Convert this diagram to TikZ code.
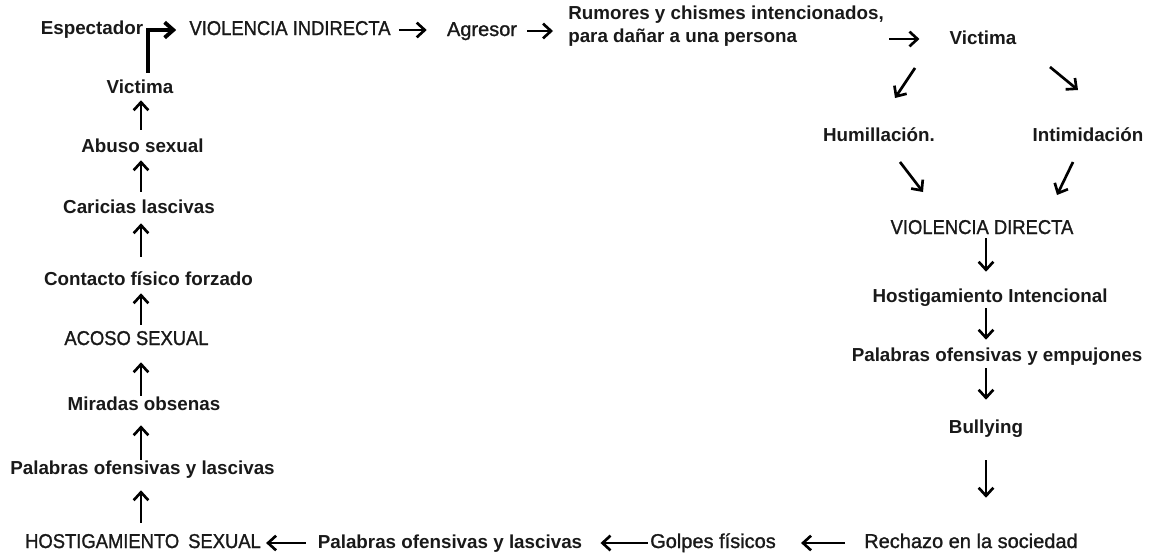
\documentclass[tikz,border=0pt]{standalone}
\usepackage{fontspec}
\setmainfont{Liberation Sans}
\newfontfamily\regf[FakeBold=1.2]{Liberation Sans}
\newfontfamily\capsf[FakeStretch=0.92,FakeBold=1.2]{Liberation Sans}
\usetikzlibrary{arrows.meta,calc}
\newdimen\px \px=0.75pt
\begin{document}
\begin{tikzpicture}[x=0.75pt,y=-0.75pt,
  lbl/.style={inner sep=0pt, anchor=base, text height=14\px, text depth=4\px, text=black!90},
  bd/.style={lbl, font=\fontsize{14.1}{17}\selectfont\bfseries},
  rg/.style={lbl, font=\regf\fontsize{15}{18}\selectfont},
  cp/.style={lbl, font=\capsf\fontsize{15}{18}\selectfont},
  arr/.style={line width=2pt, -{Straight Barb[length=6pt,width=11pt]}},
  bendarr/.style={line width=2.9pt, -{Straight Barb[length=6.5pt,width=11.5pt]}}
]
\fill[white] (0,0) rectangle (1149,554);
\useasboundingbox (0,0) rectangle (1149,554);
\coordinate (axL) at (141,0);
\coordinate (axR) at (986,0);

% top row
\node[bd] (esp) at (92,34) {Espectador};
\node[cp] (vi) at (290,35) {VIOLENCIA INDIRECTA};
\node[rg] (ag) at (482,36) {Agresor};
\node[inner sep=0pt, anchor=north west, align=left, text=black!90,
      font=\fontsize{14.1}{17.25}\selectfont\bfseries] (rum) at (568,6)
      {Rumores y chismes intencionados,\\para dañar a una persona};
\node[bd] (vr) at (983,44) {Victima};

% right side
\node[bd] (hum) at (879,141) {Humillación.};
\node[bd] (int) at (1088,141) {Intimidación};
\node[cp] (vd) at (982,234) {VIOLENCIA DIRECTA};
\node[bd] (hi) at (990,302) {Hostigamiento Intencional};
\node[bd] (poe) at (997,361) {Palabras ofensivas y empujones};
\node[bd] (bul) at (986,433) {Bullying};

% bottom row
\node[rg] (rech) at (971,548) {Rechazo en la sociedad};
\node[rg] (gol) at (713,548) {Golpes físicos};
\node[bd] (pob) at (450,548) {Palabras ofensivas y lascivas};
\node[cp] (hs) at (143,548) {HOSTIGAMIENTO\hspace{0.45em}SEXUAL};

% left column
\node[bd] (pal) at (142.5,474) {Palabras ofensivas y lascivas};
\node[bd] (mir) at (144,410) {Miradas obsenas};
\node[cp] (aco) at (136.5,345) {ACOSO SEXUAL};
\node[bd] (con) at (148.5,285) {Contacto físico forzado};
\node[bd] (car) at (139,213) {Caricias lascivas};
\node[bd] (ab) at (142.5,152) {Abuso sexual};
\node[bd] (vl) at (140,93) {Victima};

% top arrows
\draw[bendarr, shorten <=6\px, shorten >=13\px] ([xshift=8\px]vl.north) |- (vi.west);
\draw[arr, shorten <=8\px, shorten >=20\px] (vi.east) -- (vi.east -| ag.west);
\draw[arr, shorten <=10\px, shorten >=15\px] (ag.east) -- (ag.east -| rum.west);
\draw[arr, shorten <=5\px, shorten >=30\px] (rum.east |- vr.west) -- (vr.west);

% diagonal arrows
\draw[arr] ([shift={(-68,29)}]vr.center) -- ([shift={(16,-38)}]hum.center);
\draw[arr] ([shift={(67,28)}]vr.center) -- ([shift={(-10,-46)}]int.center);
\draw[arr] ([shift={(21,26)}]hum.center) -- ([shift={(-59,-37)}]vd.center);
\draw[arr] ([shift={(-15,26)}]int.center) -- ([shift={(75,-34)}]vd.center);

% right column
\draw[arr, shorten <=0\px, shorten >=16\px] (vd.south -| axR) -- (hi.north -| axR);
\draw[arr, shorten <=2\px, shorten >=7\px] (hi.south -| axR) -- (poe.north -| axR);
\draw[arr, shorten <=3\px, shorten >=19\px] (poe.south -| axR) -- (bul.north -| axR);
\draw[arr, shorten <=23\px, shorten >=36\px] (bul.south -| axR) -- (rech.north -| axR);

% bottom arrows
\draw[arr, shorten <=19\px, shorten >=25\px] (rech.west) -- (rech.west -| gol.east);
\draw[arr, shorten <=2\px, shorten >=18\px] (gol.west) -- (gol.west -| pob.east);
\draw[arr, shorten <=12\px, shorten >=5\px] (pob.west) -- (pob.west -| hs.east);

% left column
\draw[arr, shorten <=11\px, shorten >=12\px] (hs.north -| axL) -- (pal.south -| axL);
\draw[arr, shorten <=0\px, shorten >=11\px] (pal.north -| axL) -- (mir.south -| axL);
\draw[arr, shorten <=0\px, shorten >=13\px] (mir.north -| axL) -- (aco.south -| axL);
\draw[arr, shorten <=6\px, shorten >=4\px] (aco.north -| axL) -- (con.south -| axL);
\draw[arr, shorten <=14\px, shorten >=6\px] (con.north -| axL) -- (car.south -| axL);
\draw[arr, shorten <=7\px, shorten >=4\px] (car.north -| axL) -- (ab.south -| axL);
\draw[arr, shorten <=8\px, shorten >=3\px] (ab.north -| axL) -- (vl.south -| axL);
\end{tikzpicture}
\end{document}
